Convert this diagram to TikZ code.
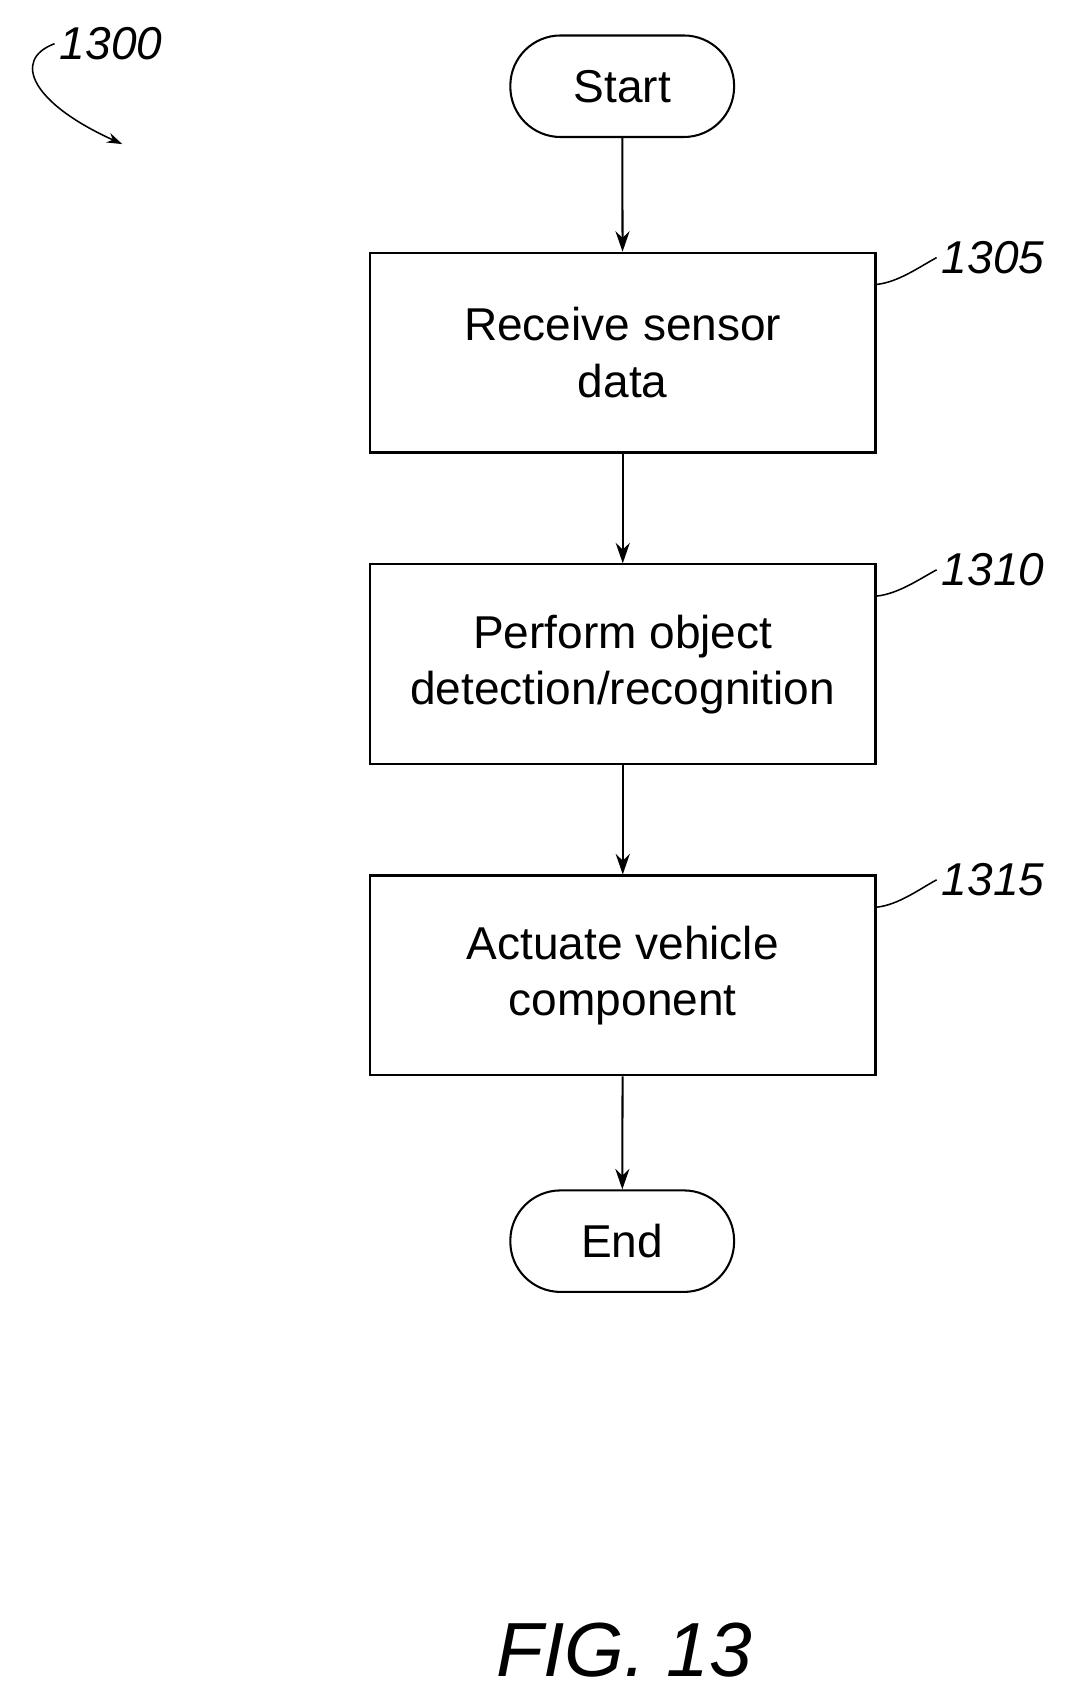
\documentclass[tikz,border=0pt]{standalone}
\usepackage{fontspec}
\setmainfont{Liberation Sans}
\usetikzlibrary{arrows.meta}
\begin{document}
\begin{tikzpicture}[x=0.03cm,y=-0.03cm,
  line width=1.6pt,
  box/.style={draw,minimum width=463*0.03cm,minimum height=183*0.03cm,align=center,font=\fontsize{36}{44}\selectfont},
  term/.style={draw,rounded corners=46*0.03cm,minimum width=205*0.03cm,minimum height=93*0.03cm,font=\fontsize{36}{44}\selectfont},
  arr/.style={-{Stealth[length=16pt,width=11pt]}},
  lab/.style={font=\fontsize{36}{40}\selectfont\itshape,anchor=west}]
\useasboundingbox (0,0) rectangle (975,1561);
\node[term] (s) at (570,79) {Start};
\node[box] (b1) at (570.5,323) {Receive sensor\\data};
\node[box] (b2) at (570.5,608.5) {Perform object\\detection/recognition};
\node[box] (b3) at (570.5,893.5) {Actuate vehicle\\component};
\node[term] (e) at (570,1137) {End};
\draw[arr] (s) -- (b1);
\draw[arr] (b1) -- (b2);
\draw[arr] (b2) -- (b3);
\draw[arr] (b3) -- (e);
\foreach \b/\t/\y in {b1/1305/236,b2/1310/522,b3/1315/806}{
  \node[lab] (l\t) at (858,\y) {\t};
  \draw[line width=1.2pt] (\b.north east) ++(0,30) .. controls +(20,-2) and +(-15,8) .. (l\t.west);
}
\node[lab] (l1300) at (50,40) {1300};
\coordinate (a1) at (112,132);
\draw[line width=1.2pt,-{Stealth[length=12pt,width=8pt]}] (l1300.west) .. controls (10,55) and (30,95) .. (a1);
\node[font=\fontsize{60}{66}\selectfont\itshape] (fig) at (572,1512) {FIG. 13};
\end{tikzpicture}
\end{document}
